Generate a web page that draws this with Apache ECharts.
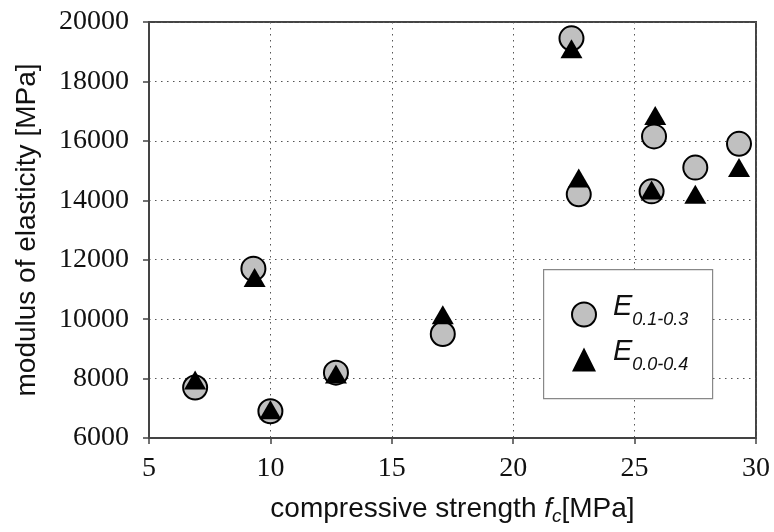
<!DOCTYPE html>
<html>
<head>
<meta charset="utf-8">
<script src="https://cdn.jsdelivr.net/npm/echarts@6/dist/echarts.min.js"></script>
<style>
  html, body { margin: 0; padding: 0; background: #fff; }
  #main { width: 774px; height: 532px; }
</style>
</head>
<body>
<div id="main"></div>
<script>
// compressive strength fc [MPa]
var fcCircle = [6.9, 9.3, 10.0, 12.7, 17.1, 22.4, 22.7, 25.8, 25.7, 27.5, 29.3];
var fcTri = [6.9, 9.35, 10.0, 12.7, 17.1, 22.4, 22.7, 25.85, 25.7, 27.5, 29.3];
// modulus of elasticity [MPa]
var eCircle = [7700, 11700, 6900, 8200, 9500, 19450, 14200, 16150, 14300, 15100, 15900];
var eTri = [7950, 11400, 6950, 8150, 10150, 19100, 14750, 16850, 14350, 14200, 15100];
var seriesNames = ['E0.1-0.3', 'E0.0-0.4'];
var subLabels = { 'E0.1-0.3': '0.1-0.3', 'E0.0-0.4': '0.0-0.4' };

function zip(xs, ys) {
  return xs.map(function (x, i) { return [x, ys[i]]; });
}

var chart = echarts.init(document.getElementById('main'));
var serif = '"Liberation Serif", "DejaVu Serif", serif';
var sans = '"Liberation Sans", Arial, sans-serif';

var option = {
  animation: false,
  backgroundColor: '#fff',
  grid: {
    left: 149, right: 18, top: 22, bottom: 94,
    show: true, borderColor: '#444', borderWidth: 2
  },
  xAxis: {
    type: 'value', min: 5, max: 30, interval: 5,
    name: 'compressive strength {i|f}{sub|c}[MPa]',
    nameLocation: 'middle', nameGap: 55,
    nameTextStyle: {
      fontFamily: sans, fontSize: 28, color: '#111',
      rich: {
        i: { fontFamily: sans, fontSize: 28, fontStyle: 'italic', color: '#111' },
        sub: { fontFamily: sans, fontSize: 19, fontStyle: 'italic', color: '#111', verticalAlign: 'bottom', padding: [14, 0, 0, 0] }
      }
    },
    axisLine: { show: true, lineStyle: { color: '#444', width: 2 } },
    axisTick: { show: true, inside: false, length: 6, lineStyle: { color: '#444', width: 1.5 } },
    axisLabel: { fontFamily: serif, fontSize: 28, color: '#111', margin: 17 },
    splitLine: { show: true, lineStyle: { color: '#555', width: 1, type: [1.5, 4.5] } }
  },
  yAxis: {
    type: 'value', min: 6000, max: 20000, interval: 2000,
    name: 'modulus of elasticity [MPa]',
    nameLocation: 'middle', nameGap: 108, nameRotate: 90,
    nameTextStyle: { fontFamily: sans, fontSize: 28, color: '#111' },
    axisLine: { show: true, lineStyle: { color: '#444', width: 2 } },
    axisTick: { show: true, inside: false, length: 6, lineStyle: { color: '#444', width: 1.5 } },
    axisLabel: {
      fontFamily: serif, fontSize: 28, color: '#111', margin: 20,
      formatter: function (v) { return String(v); }
    },
    splitLine: { show: true, lineStyle: { color: '#555', width: 1, type: [1.5, 4.5] } }
  },
  graphic: [{
    type: 'rect', left: 543, top: 269, z: 5,
    shape: { width: 169, height: 129 },
    style: { fill: '#fff', stroke: '#888', lineWidth: 1.2 }
  }],
  legend: {
    z: 10,
    orient: 'vertical', left: 566, top: 287,
    itemWidth: 24, itemHeight: 24, itemGap: 8,
    data: [
      { name: seriesNames[0], icon: 'circle' },
      { name: seriesNames[1], icon: 'triangle' }
    ],
    formatter: function (name) {
      return '{e|E}{s|' + subLabels[name] + '}';
    },
    textStyle: {
      rich: {
        e: { fontFamily: sans, fontSize: 29, fontStyle: 'italic', color: '#111', lineHeight: 29, padding: [0, 0, 8, 12], verticalAlign: 'bottom' },
        s: { fontFamily: sans, fontSize: 18, fontStyle: 'italic', color: '#111', lineHeight: 18, verticalAlign: 'bottom' }
      }
    }
  },
  series: [
    {
      name: seriesNames[0], type: 'scatter',
      data: zip(fcCircle, eCircle),
      symbol: 'circle', symbolSize: 24,
      itemStyle: { color: '#c0c0c0', borderColor: '#000', borderWidth: 2, opacity: 1 },
      z: 2
    },
    {
      name: seriesNames[1], type: 'scatter',
      data: zip(fcTri, eTri),
      symbol: 'triangle', symbolSize: [22, 19],
      itemStyle: { color: '#000', opacity: 1 },
      z: 3
    }
  ]
};
chart.setOption(option);
</script>
</body>
</html>
